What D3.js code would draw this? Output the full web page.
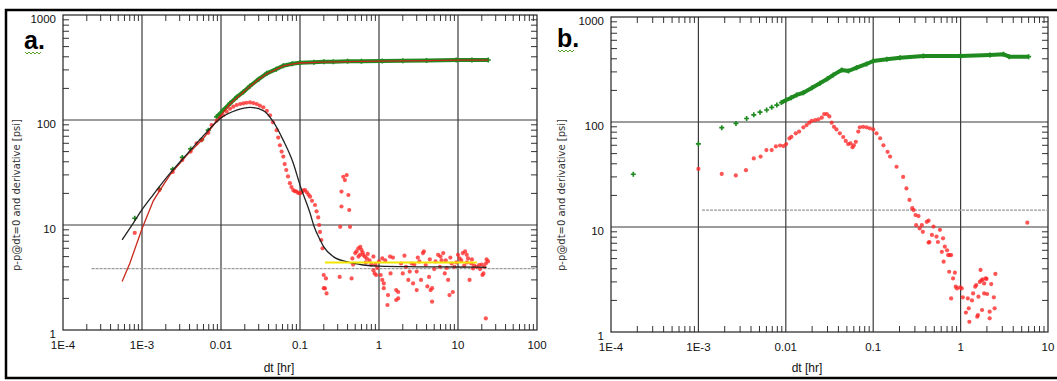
<!DOCTYPE html>
<html>
<head>
<meta charset="utf-8">
<script src="https://cdn.jsdelivr.net/npm/d3@7"></script>
<style>
  body { margin: 0; background: #fff; }
  svg { display: block; }
  .tick-label { font-family: "Liberation Sans Narrow", "Liberation Sans", sans-serif; font-size: 11.5px; fill: #111; }
  .axis-title { font-family: "Liberation Sans Narrow", "Liberation Sans", sans-serif; font-size: 12px; fill: #111; }
  .y-title { font-family: "DejaVu Sans", sans-serif; font-size: 10px; fill: #333; }
  .panel-tag { font-family: "Liberation Sans", sans-serif; font-size: 25px; font-weight: bold; fill: #000; }
</style>
</head>
<body>
<div id="chart"></div>
<script>
// ---- tick labels ----
const aXTicks = [1e-4, 1e-3, 0.01, 0.1, 1, 10, 100];
const aXTickLabels = ["1E-4", "1E-3", "0.01", "0.1", "1", "10", "100"];
const bXTicks = [1e-4, 1e-3, 0.01, 0.1, 1, 10];
const bXTickLabels = ["1E-4", "1E-3", "0.01", "0.1", "1", "10"];
const yTicks = [1, 10, 100, 1000];
const yTickLabels = ["1", "10", "100", "1000"];

// ---- panel a: [dt hr, psi] ----
const aPressure = [
  [8.1e-4, 11.6], [1.66e-3, 22], [2.45e-3, 34], [3.24e-3, 44], [4.13e-3, 53],
  [5.7e-3, 65], [6.9e-3, 80], [8.8e-3, 107], [0.0107, 124], [0.013, 144],
  [0.0158, 165], [0.0192, 185], [0.0233, 211], [0.03, 245], [0.038, 278],
  [0.05, 305], [0.0615, 329], [0.08, 343], [0.1, 351], [0.15, 355], [0.2, 358],
  [0.264, 359], [0.4, 362], [0.6, 363], [1.1, 365], [2, 367], [4, 369],
  [9.5, 373], [15, 373], [24.2, 373]
];
const aPressureModel = [
  [5.6e-4, 2.9], [7e-4, 4.3], [1e-3, 9.2], [1.39e-3, 17], [1.69e-3, 21.5],
  [2.26e-3, 30], [3.68e-3, 46], [6e-3, 67], [9.7e-3, 108], [0.013, 142],
  [0.0192, 184], [0.0233, 209], [0.03, 243], [0.038, 276], [0.05, 303],
  [0.0615, 327], [0.08, 341], [0.1, 349], [0.2, 356], [0.4, 360], [1, 363],
  [4, 367], [10, 371], [24.2, 372]
];
const aDerivativeModel = [
  [5.6e-4, 7.2], [7.8e-4, 10.5], [1e-3, 14], [1.39e-3, 19.5], [2.26e-3, 31],
  [3.68e-3, 47], [6e-3, 71], [9.7e-3, 103], [0.0158, 124], [0.0233, 132],
  [0.0343, 123], [0.046, 96], [0.0615, 64], [0.082, 39], [0.1, 24],
  [0.134, 13], [0.15, 9.8], [0.18, 7.2], [0.2, 6.2], [0.264, 5.0],
  [0.39, 4.47], [0.63, 4.16], [1, 4.05], [3, 4.0], [10, 3.98], [23, 3.95]
];
const aDerivative = [
  [8.1e-4, 8.4], [1.66e-3, 21.5], [2.45e-3, 32], [3.24e-3, 41.6], [4.13e-3, 50],
  [4.92e-3, 60], [5.7e-3, 64.5], [6.9e-3, 75.5], [7.6e-3, 89.5], [8.8e-3, 98.5],
  [0.0098, 106], [0.0107, 111], [0.0118, 120], [0.013, 128], [0.0143, 134],
  [0.0158, 139], [0.0175, 142], [0.0192, 144], [0.021, 146], [0.0233, 147],
  [0.0257, 145], [0.0283, 142], [0.031, 137], [0.0343, 132], [0.038, 122],
  [0.0417, 111], [0.0455, 95], [0.0507, 80], [0.053, 68], [0.0557, 57.5],
  [0.0585, 50], [0.0615, 44.8], [0.064, 38], [0.067, 33.4], [0.0705, 29],
  [0.0745, 25], [0.078, 23], [0.082, 21.5], [0.086, 21], [0.09, 20.8],
  [0.095, 20.2], [0.1, 20], [0.105, 20.5], [0.11, 21.4], [0.116, 21.5],
  [0.122, 20.5], [0.128, 19.5], [0.134, 18.6], [0.142, 17], [0.155, 15.5],
  [0.162, 13.5], [0.17, 11.8], [0.175, 10], [0.179, 8.6], [0.186, 7.2],
  [0.193, 6.0], [0.2, 3.34], [0.2, 2.5], [0.207, 2.49], [0.213, 3.1], [0.217, 2.23],
  [0.318, 3.2], [0.323, 9.6], [0.335, 15], [0.335, 20.8], [0.353, 28.8],
  [0.37, 26.8], [0.39, 29.9], [0.41, 19.3], [0.42, 13.9], [0.43, 9.6],
  [0.45, 3.1], [0.46, 4.8], [0.47, 4.2], [0.5, 5.4], [0.52, 5.6], [0.547, 6.0],
  [0.55, 5.0], [0.575, 5.2], [0.58, 6.2], [0.6, 5.8], [0.62, 5.5], [0.63, 5.2],
  [0.66, 5.0], [0.68, 4.4], [0.7, 4.8], [0.72, 5.3], [0.76, 4.6], [0.8, 4.2],
  [0.85, 3.7], [0.85, 5.0], [0.88, 3.46], [0.9, 4.2], [0.92, 3.34], [0.95, 3.9],
  [1.0, 4.5], [1.05, 3.34], [1.1, 4.8], [1.1, 3.0], [1.15, 2.78], [1.15, 2.5],
  [1.2, 4.6], [1.28, 1.73], [1.3, 2.15], [1.38, 5.0], [1.4, 3.46], [1.5, 4.9],
  [1.65, 1.93], [1.65, 2.4], [1.75, 2.3], [1.75, 2.0], [1.9, 4.3], [2.0, 3.46],
  [2.1, 5.1], [2.2, 4.0], [2.35, 3.0], [2.45, 3.6], [2.6, 4.3], [2.7, 2.78],
  [2.8, 4.2], [3.0, 2.4], [3.0, 3.6], [3.1, 4.9], [3.25, 4.5], [3.4, 3.0],
  [3.6, 5.4], [3.7, 5.6], [3.9, 4.16], [4.1, 2.6], [4.3, 3.2], [4.4, 4.7],
  [4.5, 2.4], [4.7, 2.5], [4.7, 1.86], [5.0, 3.8], [5.2, 4.5], [5.6, 5.2],
  [5.9, 4.0], [6.0, 5.0], [6.2, 4.6], [6.5, 5.4], [6.8, 3.46], [7.0, 4.6],
  [7.2, 3.9], [7.5, 3.0], [7.8, 2.15], [8.0, 4.9], [8.3, 4.3], [8.6, 2.3],
  [9.0, 4.0], [9.5, 4.4], [10, 5.2], [10.5, 4.8], [11, 4.6], [11.5, 5.4],
  [12, 4.1], [12.3, 5.6], [12.9, 5.2], [13, 4.4], [13.4, 4.8], [14, 3.0],
  [14.7, 4.3], [15, 4.7], [15.5, 3.86], [16, 4.1], [17.3, 4.0], [18.5, 4.16],
  [19, 3.8], [20, 4.2], [20.4, 3.34], [21, 3.46], [21.5, 4.0], [22.5, 4.3],
  [22.5, 1.29], [23, 4.7], [24, 4.5]
];
const aYellow = [[0.207, 4.4], [17.3, 4.4]];
const aStabilization = [[2.3e-4, 3.85], [100, 3.85]];

// ---- panel b: [dt hr, psi] ----
const bPressure = [
  [1.8e-4, 31.8], [1e-3, 61.8], [1.85e-3, 88.3], [2.69e-3, 97], [3.56e-3, 108],
  [4.3e-3, 117], [5.07e-3, 124], [6.04e-3, 130], [6.9e-3, 138], [7.9e-3, 145],
  [8.9e-3, 153], [0.0101, 162], [0.0115, 170], [0.0133, 181], [0.0159, 190],
  [0.02, 212], [0.0246, 234], [0.03, 258], [0.035, 281], [0.0436, 313],
  [0.052, 306], [0.0647, 329], [0.084, 357], [0.1, 381], [0.143, 396],
  [0.203, 410], [0.375, 425], [1.0, 425], [2.17, 435], [3.1, 441], [3.6, 419],
  [6.0, 419]
];
const bDerivative = [
  [1e-3, 35.7], [1.85e-3, 32], [2.68e-3, 31], [3.5e-3, 34.8], [4.3e-3, 45],
  [5.15e-3, 46.8], [6.0e-3, 54], [6.9e-3, 54], [7.7e-3, 58.5], [8.6e-3, 59.7],
  [9.4e-3, 59], [0.0101, 61.6], [0.011, 69.8], [0.0116, 72.2], [0.013, 78],
  [0.0142, 81], [0.0159, 89], [0.0173, 93.5], [0.0186, 98.6], [0.0198, 102.5],
  [0.0217, 104], [0.0236, 106], [0.0258, 110], [0.0275, 119], [0.0295, 119],
  [0.0315, 113], [0.0335, 98.6], [0.0356, 90], [0.038, 85], [0.0415, 78],
  [0.0454, 72], [0.0485, 66], [0.0517, 61.6], [0.055, 62.5], [0.058, 57.5],
  [0.06, 60], [0.0633, 64.7], [0.0675, 81], [0.0703, 89], [0.0768, 90],
  [0.084, 89], [0.0914, 87], [0.1, 85], [0.109, 78], [0.12, 70], [0.131, 60],
  [0.146, 52], [0.156, 46.8], [0.185, 37.5], [0.22, 30], [0.24, 23.3],
  [0.26, 18.1], [0.28, 15.1], [0.29, 14.5], [0.305, 13.0], [0.31, 10.4],
  [0.33, 12.7], [0.34, 9.7], [0.36, 10.4], [0.37, 9.0], [0.41, 11.2],
  [0.43, 11.5], [0.43, 7.1], [0.44, 7.2], [0.47, 8.4], [0.49, 10.1],
  [0.53, 8.1], [0.55, 7.2], [0.58, 9.4], [0.61, 5.8], [0.63, 7.8], [0.64, 4.67],
  [0.66, 6.5], [0.7, 6.0], [0.72, 5.4], [0.74, 3.75], [0.75, 5.4], [0.78, 5.4],
  [0.78, 2.09], [0.82, 3.24], [0.86, 3.67], [0.88, 2.7], [0.91, 2.6],
  [0.99, 2.66], [1.03, 2.6], [1.06, 2.14], [1.15, 1.53], [1.21, 2.09],
  [1.24, 1.68], [1.26, 1.25], [1.35, 2.0], [1.39, 2.33], [1.47, 2.7],
  [1.51, 2.8], [1.55, 1.4], [1.58, 1.45], [1.6, 2.17], [1.66, 3.0], [1.69, 3.9],
  [1.73, 3.1], [1.76, 1.62], [1.79, 3.17], [1.86, 2.33], [1.86, 2.9],
  [1.94, 3.24], [1.98, 3.2], [2.01, 2.3], [2.15, 1.35], [2.15, 1.56],
  [2.24, 2.86], [2.4, 2.14], [2.45, 1.68], [2.5, 3.57], [5.8, 11.0]
];
const bStabilization = [[1.1e-3, 14.5], [10, 14.5]];

const width = 1057, height = 381;
const svg = d3.select("#chart").append("svg")
  .attr("width", width)
  .attr("height", height);

// outer frame (top, left, bottom)
svg.append("path")
  .attr("d", `M${width},10 H6 V378 H${width}`)
  .attr("fill", "none")
  .attr("stroke", "#000")
  .attr("stroke-width", 2.5);

const panels = [
  {
    tag: "a.", tagX: 24, tagY: 49, left: 63, right: 537, top: 15, bottom: 330,
    xTicks: aXTicks, xTickLabels: aXTickLabels, titleX: 279, yTitleX: 16,
    pressure: aPressure, pressureModel: aPressureModel, derivModel: aDerivativeModel,
    derivative: aDerivative, yellow: aYellow, stab: aStabilization
  },
  {
    tag: "b.", tagX: 557, tagY: 47, left: 611, right: 1048, top: 17, bottom: 332,
    xTicks: bXTicks, xTickLabels: bXTickLabels, titleX: 807, yTitleX: 561,
    pressure: bPressure, pressureModel: null, derivModel: null,
    derivative: bDerivative, yellow: null, stab: bStabilization
  }
];

panels.forEach((p, i) => drawPanel(p, i));

function drawPanel(p, i) {
  const x = d3.scaleLog().domain(d3.extent(p.xTicks)).range([p.left, p.right]);
  const y = d3.scaleLog().domain([1, 1000]).range([p.bottom, p.top]);
  const g = svg.append("g");

  g.append("clipPath").attr("id", "clip" + i)
    .append("rect")
    .attr("x", p.left).attr("y", p.top)
    .attr("width", p.right - p.left).attr("height", p.bottom - p.top);

  // grid lines on decades
  g.selectAll(".vgrid")
    .data(p.xTicks.slice(1, -1))
    .enter().append("line")
    .attr("x1", d => x(d)).attr("x2", d => x(d))
    .attr("y1", p.top).attr("y2", p.bottom)
    .attr("stroke", "#3a3a3a").attr("stroke-width", 1.2);
  g.selectAll(".hgrid")
    .data(yTicks.slice(1, -1))
    .enter().append("line")
    .attr("x1", p.left).attr("x2", p.right)
    .attr("y1", d => y(d)).attr("y2", d => y(d))
    .attr("stroke", "#3a3a3a").attr("stroke-width", 1.2);

  // minor ticks pointing inward on all four sides
  const minorX = [];
  p.xTicks.slice(0, -1).forEach(d => { for (let k = 2; k <= 9; k++) minorX.push(d * k); });
  const minorY = [];
  yTicks.slice(0, -1).forEach(d => { for (let k = 2; k <= 9; k++) minorY.push(d * k); });
  const tickLen = 6;
  minorX.forEach(v => {
    g.append("line").attr("x1", x(v)).attr("x2", x(v))
      .attr("y1", p.top).attr("y2", p.top + tickLen).attr("stroke", "#333");
    g.append("line").attr("x1", x(v)).attr("x2", x(v))
      .attr("y1", p.bottom).attr("y2", p.bottom - tickLen).attr("stroke", "#333");
  });
  minorY.forEach(v => {
    g.append("line").attr("x1", p.left).attr("x2", p.left + tickLen)
      .attr("y1", y(v)).attr("y2", y(v)).attr("stroke", "#333");
    g.append("line").attr("x1", p.right).attr("x2", p.right - tickLen)
      .attr("y1", y(v)).attr("y2", y(v)).attr("stroke", "#333");
  });

  // plot frame
  g.append("rect")
    .attr("x", p.left).attr("y", p.top)
    .attr("width", p.right - p.left).attr("height", p.bottom - p.top)
    .attr("fill", "none").attr("stroke", "#222").attr("stroke-width", 1.2);

  // tick labels
  g.selectAll(".xlab")
    .data(p.xTicks)
    .enter().append("text")
    .attr("class", "tick-label")
    .attr("x", d => x(d)).attr("y", p.bottom + 19)
    .attr("text-anchor", "middle")
    .text((d, j) => p.xTickLabels[j]);
  g.selectAll(".ylab")
    .data(yTicks)
    .enter().append("text")
    .attr("class", "tick-label")
    .attr("x", p.left - 7).attr("y", d => y(d) + 8)
    .attr("text-anchor", "end")
    .text((d, j) => yTickLabels[j]);

  // axis titles
  g.append("text").attr("class", "axis-title")
    .attr("x", p.titleX).attr("y", 372)
    .attr("text-anchor", "middle")
    .text("dt [hr]");
  g.append("text").attr("class", "y-title")
    .attr("transform", `translate(${p.yTitleX + 4},${195}) rotate(-90)`)
    .attr("text-anchor", "middle")
    .text("p-p@dt=0 and derivative [psi]");

  // panel tag with a green squiggle
  g.append("text").attr("class", "panel-tag")
    .attr("x", p.tagX).attr("y", p.tagY)
    .text(p.tag);
  const sq = d3.range(0, 9).map(k => [p.tagX + 1 + k * 2, p.tagY + 3 + (k % 2 ? 2 : 0)]);
  g.append("path")
    .attr("d", d3.line()(sq))
    .attr("fill", "none").attr("stroke", "#5aa02c").attr("stroke-width", 1);

  const plot = g.append("g").attr("clip-path", `url(#clip${i})`);
  const line = d3.line().x(d => x(d[0])).y(d => y(d[1]));

  // stabilization (dotted gray) line
  plot.append("path")
    .attr("d", line(p.stab))
    .attr("fill", "none").attr("stroke", "#9a9a9a")
    .attr("stroke-width", 1.3).attr("stroke-dasharray", "3,1");

  // pressure data: dense band + markers
  plot.append("path")
    .attr("d", line(p.pressure.filter(d => d[0] >= 0.0085)))
    .attr("fill", "none").attr("stroke", "#1f8a1f")
    .attr("stroke-width", 4).attr("stroke-linejoin", "round");
  plot.selectAll(".pmark")
    .data(p.pressure)
    .enter().append("path")
    .attr("transform", d => `translate(${x(d[0])},${y(d[1])})`)
    .attr("d", d3.symbol(d3.symbolCross, 14))
    .attr("fill", "#1f8a1f");

  // derivative data
  plot.selectAll(".dmark")
    .data(p.derivative)
    .enter().append("circle")
    .attr("cx", d => x(d[0])).attr("cy", d => y(d[1]))
    .attr("r", 2.1)
    .attr("fill", "#ff2525").attr("fill-opacity", 0.78);

  if (p.pressureModel) {
    plot.append("path")
      .attr("d", line(p.pressureModel))
      .attr("fill", "none").attr("stroke", "#c8281c").attr("stroke-width", 1.3);
  }
  if (p.derivModel) {
    plot.append("path")
      .attr("d", line.curve(d3.curveMonotoneX)(p.derivModel))
      .attr("fill", "none").attr("stroke", "#222").attr("stroke-width", 1.3);
    line.curve(d3.curveLinear);
  }
  if (p.yellow) {
    plot.append("path")
      .attr("d", line(p.yellow))
      .attr("fill", "none").attr("stroke", "#f2e600").attr("stroke-width", 2);
  }
}
</script>
</body>
</html>
